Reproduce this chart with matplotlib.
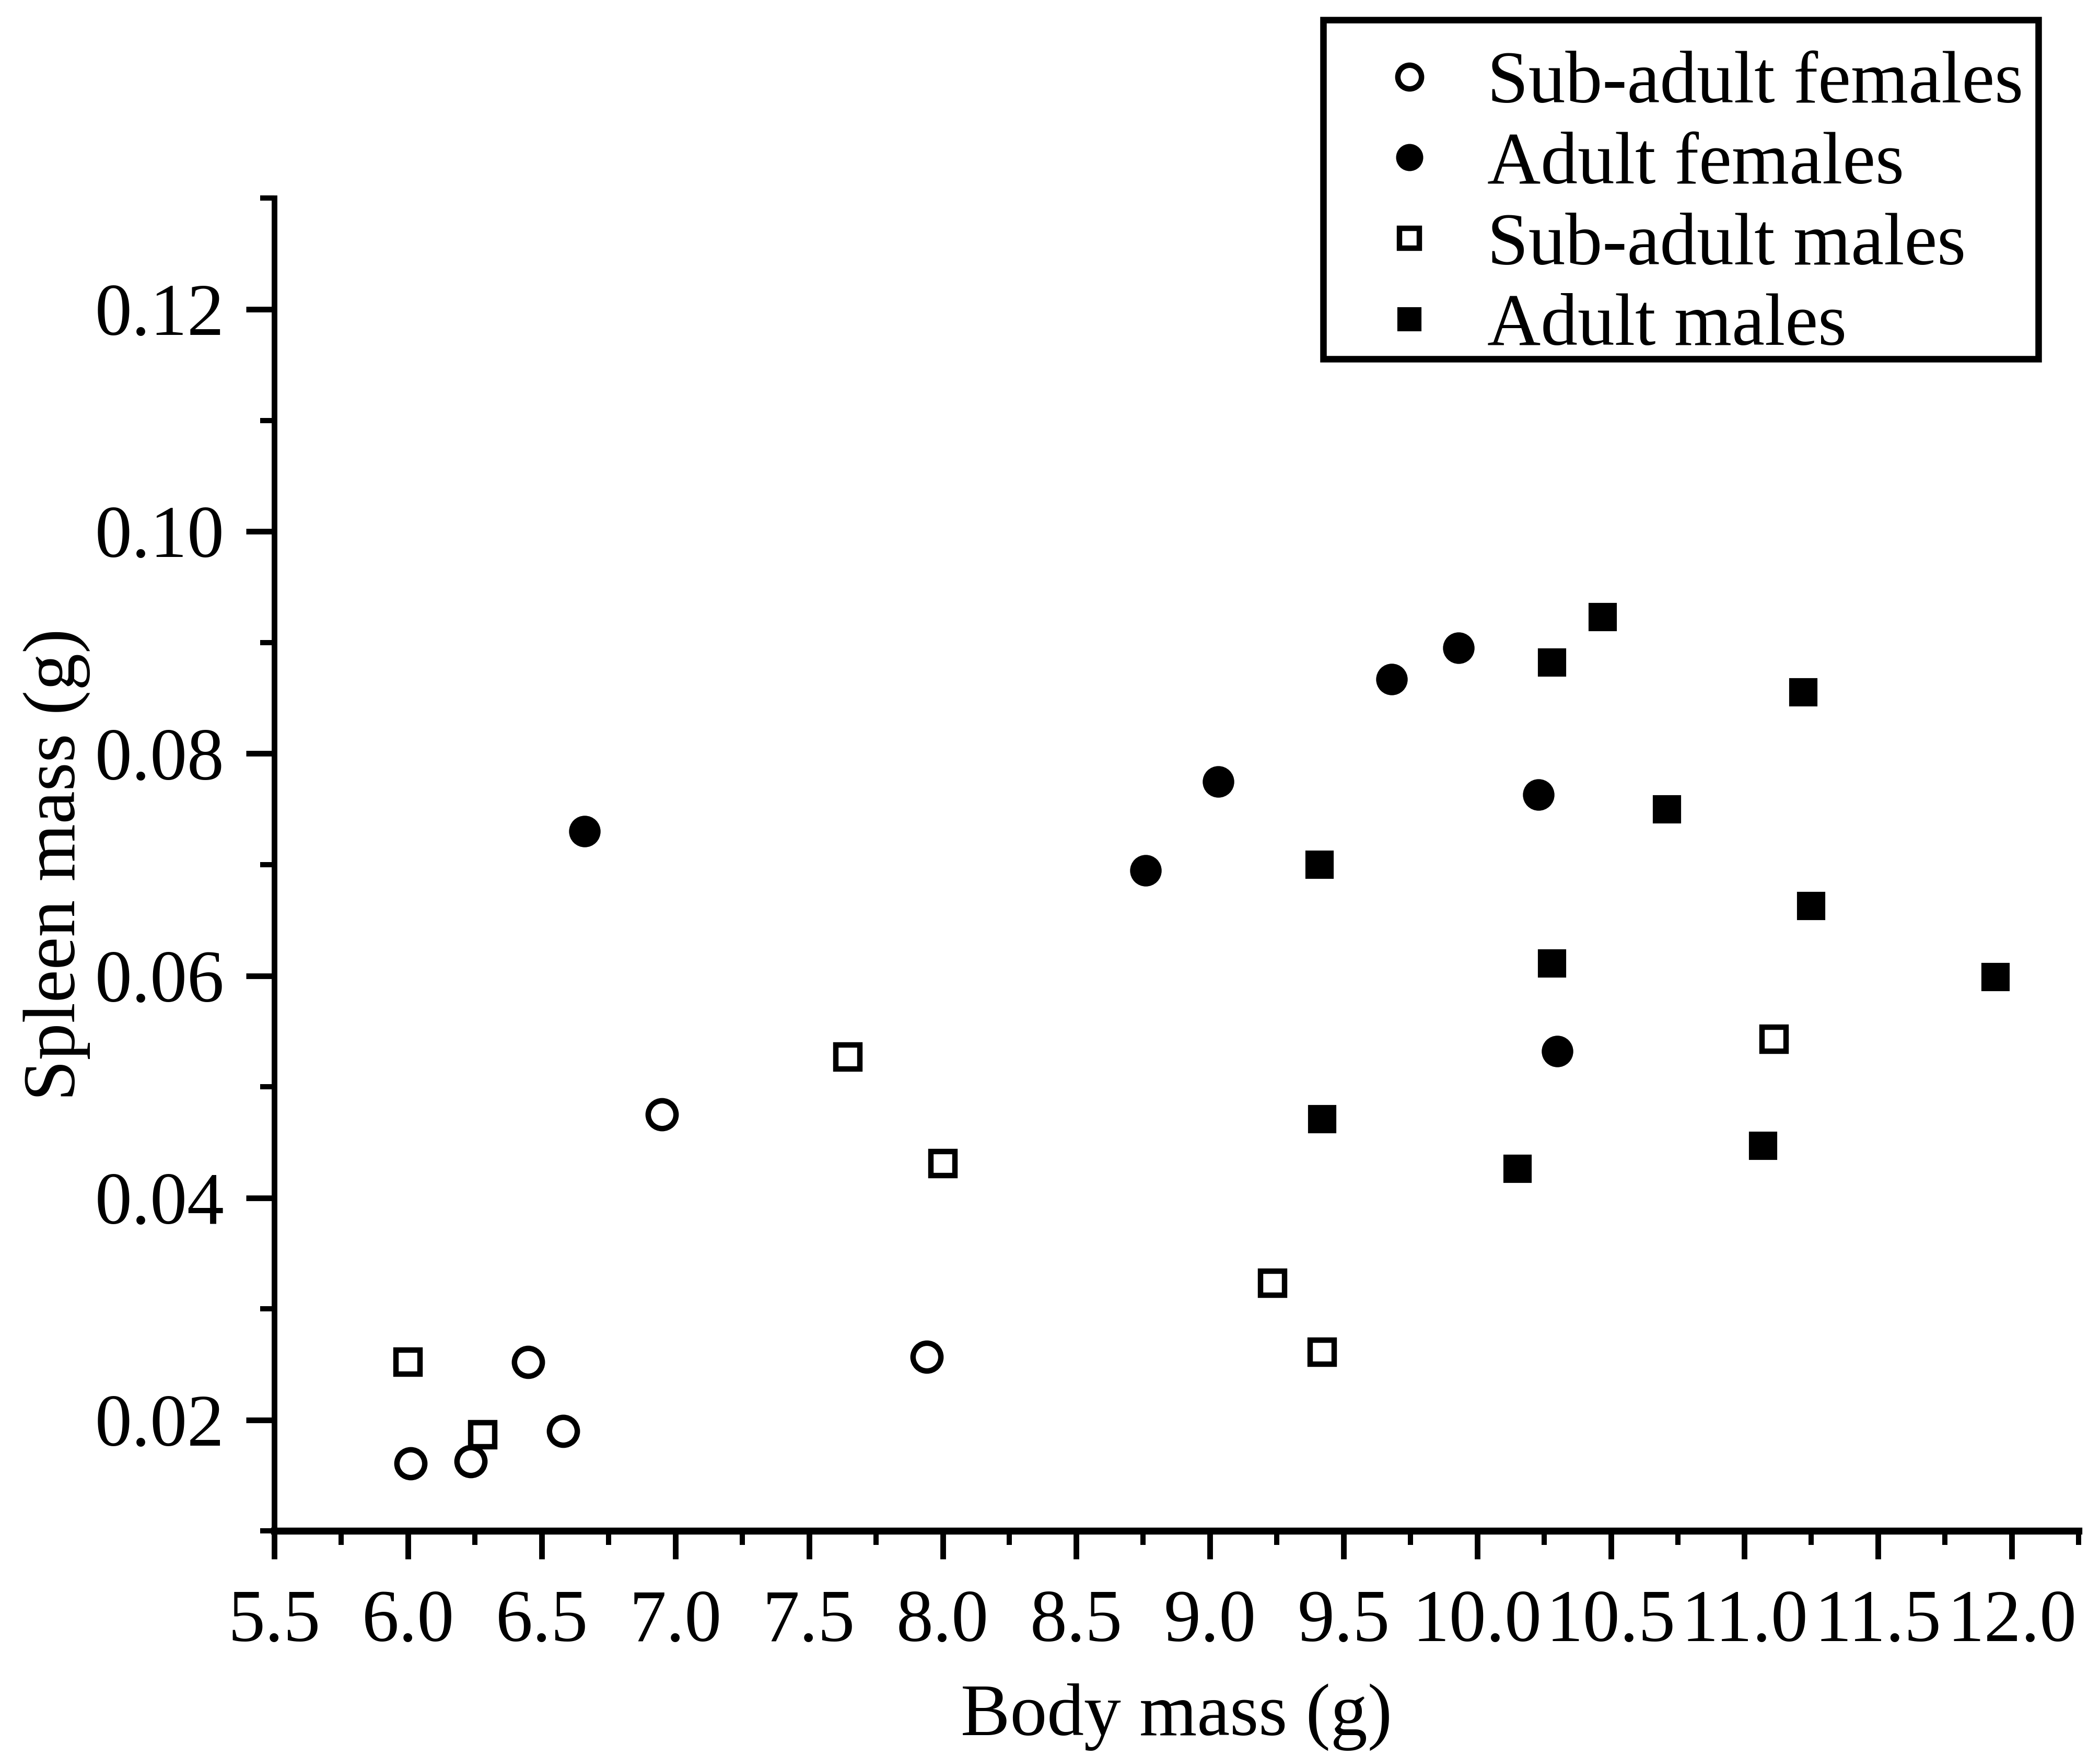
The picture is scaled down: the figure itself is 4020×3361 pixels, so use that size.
import matplotlib
matplotlib.use("Agg")
from matplotlib import pyplot as plt
from matplotlib.patches import Rectangle
from matplotlib.ticker import MultipleLocator, FormatStrFormatter

# values: body mass (g) vs spleen mass (g)
subadult_f_x = [6.01, 6.235, 6.45, 6.58, 6.95, 7.94]
subadult_f_y = [0.0161, 0.0163, 0.0252, 0.0190, 0.0475, 0.0257]

adult_f_x = [6.66, 8.76, 9.03, 9.68, 9.93, 10.23, 10.30]
adult_f_y = [0.0730, 0.0695, 0.0775, 0.0867, 0.0895, 0.0763, 0.0532]

subadult_m_x = [6.00, 6.28, 7.645, 8.00, 9.235, 9.42, 11.11]
subadult_m_y = [0.0252, 0.0187, 0.0527, 0.0431, 0.0323, 0.0261, 0.0543]

adult_m_x = [10.47, 10.28, 11.22, 10.71, 9.41, 11.25, 10.28, 11.94, 9.42, 10.15, 11.07]
adult_m_y = [0.0923, 0.0882, 0.0855, 0.0750, 0.0700, 0.0663, 0.0611, 0.0599, 0.0471, 0.0426, 0.0447]

labels = ['Sub-adult females', 'Adult females', 'Sub-adult males', 'Adult males']

plt.rcParams['font.family'] = ['Liberation Serif', 'DejaVu Serif']

fig = plt.figure(figsize=(13.4, 3361 / 300), dpi=300)
ax = fig.add_axes([0.1307, 0.1281, 0.8591, 0.759])

ax.plot(subadult_f_x, subadult_f_y, 'o', ms=12.8, mfc='white', mec='black', mew=2.5, label=labels[0])
ax.plot(adult_f_x, adult_f_y, 'o', ms=13.5, mfc='black', mec='black', label=labels[1])
ax.plot(subadult_m_x, subadult_m_y, 's', ms=11, mfc='white', mec='black', mew=2.5, label=labels[2])
ax.plot(adult_m_x, adult_m_y, 's', ms=12, mfc='black', mec='black', label=labels[3])

ax.set_xlim(5.5, 12.25)
ax.set_ylim(0.01, 0.13)
ax.xaxis.set_major_locator(MultipleLocator(0.5))
ax.xaxis.set_minor_locator(MultipleLocator(0.25))
ax.yaxis.set_minor_locator(MultipleLocator(0.01))
ax.set_yticks([0.02, 0.04, 0.06, 0.08, 0.10, 0.12])
ax.xaxis.set_major_formatter(FormatStrFormatter('%.1f'))
ax.yaxis.set_major_formatter(FormatStrFormatter('%.2f'))

for side in ['top', 'right']:
    ax.spines[side].set_visible(False)
ax.spines['bottom'].set_linewidth(3.2)
ax.spines['left'].set_linewidth(2.6)

ax.tick_params(axis='both', which='major', direction='out', length=13, width=2.6,
               labelsize=34, pad=10)
ax.tick_params(axis='both', which='minor', direction='out', length=6.5, width=2.4)
ax.tick_params(axis='x', which='major', pad=14)

ax.set_xlabel('Body mass (g)', fontsize=34, labelpad=12)
ax.set_ylabel('Spleen mass (g)', fontsize=34, labelpad=2)

# legend entries without frame, box drawn separately so text sits low in it
leg = ax.legend(loc='upper right', bbox_to_anchor=(0.9706, 0.9795),
                bbox_transform=fig.transFigure, fontsize=34, frameon=False,
                markerscale=0.85, handlelength=1.9,
                handletextpad=0.1, labelspacing=0.18, borderpad=0.2,
                borderaxespad=0)
fig.patches.append(Rectangle((0.630, 0.7956), 0.3406, 0.1931, transform=fig.transFigure,
                             fill=False, edgecolor='black', linewidth=3, zorder=5))

fig.savefig('out.png', dpi=300, facecolor='white')
